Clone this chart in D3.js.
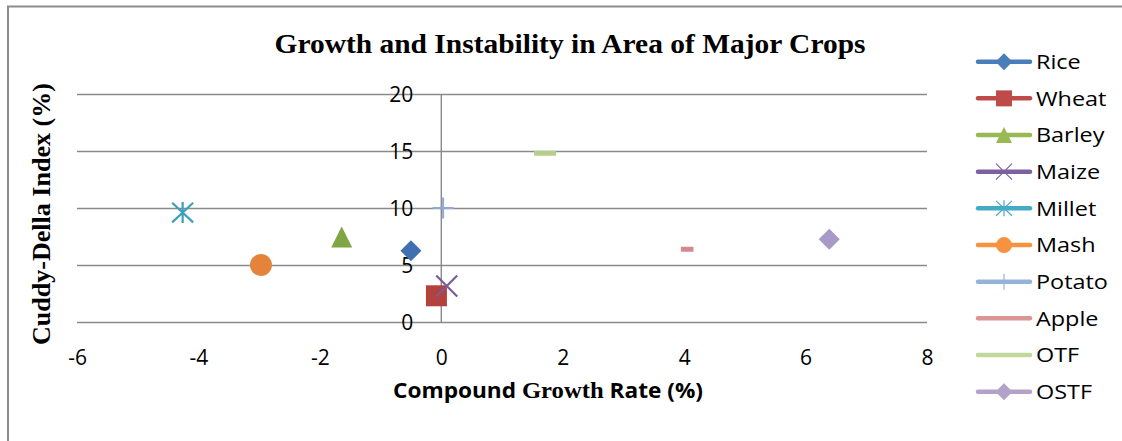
<!DOCTYPE html>
<html><head><meta charset="utf-8">
<script src="https://cdn.jsdelivr.net/npm/d3@7"></script>
<style>html,body{margin:0;padding:0;background:#fff;} svg{display:block;}</style>
</head><body>
<svg id="chart" width="1122" height="441"></svg>
<script>
// ---- data ----
const crops = ["Rice","Wheat","Barley","Maize","Millet","Mash","Potato","Apple","OTF","OSTF"];
const growthRate = [-0.50,-0.08,-1.64,0.09,-4.26,-2.97,0.03,4.05,1.71,6.39];
const instabilityIndex = [6.25,2.30,7.45,3.15,9.60,5.00,10.00,6.38,14.80,7.25];
const xTickValues = [-6,-4,-2,0,2,4,6,8];
const yTickValues = [0,5,10,15,20];
const chartTitle = "Growth and Instability in Area of Major Crops";
const xTitleParts = ["Compound ","Growth"," Rate (%)"];
const yTitle = "Cuddy-Della Index (%)";

// ---- styles ----
const style = {
  Rice:   {shape:"diamond",  line:"#4a7ebb", fill:"#3f70b0"},
  Wheat:  {shape:"square",   line:"#be4b48", fill:"#b3423e"},
  Barley: {shape:"triangle", line:"#98b954", fill:"#80a545"},
  Maize:  {shape:"x",        line:"#7d60a0", fill:"#7a5c9e"},
  Millet: {shape:"star",     line:"#46aac5", fill:"#3d9fb8"},
  Mash:   {shape:"circle",   line:"#f69240", fill:"#e4833a"},
  Potato: {shape:"plus",     line:"#95b3d7", fill:"#8eaad6"},
  Apple:  {shape:"dash",     line:"#d99694", fill:"#d48a8a"},
  OTF:    {shape:"longdash", line:"#c3d69b", fill:"#b5cf8a"},
  OSTF:   {shape:"diamond",  line:"#b3a2c7", fill:"#a899c6"}
};
const sansFont = "'Open Sans', 'DejaVu Sans', sans-serif";
const serifFont = "'Liberation Serif', 'DejaVu Serif', serif";

// custom symbol types (size = half-width)
const shapes = {
  diamond:{draw(c,r){c.moveTo(0,-r);c.lineTo(r,0);c.lineTo(0,r);c.lineTo(-r,0);c.closePath();}},
  square:{draw(c,r){c.rect(-r,-r,2*r,2*r);}},
  triangle:{draw(c,r){c.moveTo(0,-r);c.lineTo(r,r);c.lineTo(-r,r);c.closePath();}},
  circle:{draw(c,r){c.moveTo(r,0);c.arc(0,0,r,0,2*Math.PI);}},
  x:{draw(c,r){c.moveTo(-r,-r);c.lineTo(r,r);c.moveTo(-r,r);c.lineTo(r,-r);}},
  star:{draw(c,r){c.moveTo(0,-r);c.lineTo(0,r);c.moveTo(-r,-0.93*r);c.lineTo(r,0.93*r);c.moveTo(-r,0.93*r);c.lineTo(r,-0.93*r);}},
  plus:{draw(c,r){c.moveTo(-r,0);c.lineTo(r,0);c.moveTo(0,-r);c.lineTo(0,r);}},
  dash:{draw(c,r){c.rect(-r*0.6,-2.5,r*1.2,5);}},
  longdash:{draw(c,r){c.rect(-r*1.05,-2.5,r*2.1,5);}}
};
const strokeShapes = new Set(["x","star","plus"]);

const svg = d3.select("#chart");
svg.append("rect").attr("width",1122).attr("height",441).attr("fill","#fff");
// outer chart frame (top/left visible)
svg.append("path").attr("d","M8,441 L8,6.5 L1122,6.5").attr("fill","none").attr("stroke","#8c8c8c").attr("stroke-width",2);

const x = d3.scaleLinear().domain([-6,8]).range([77,927]);
const y = d3.scaleLinear().domain([0,20]).range([322,94]);

// gridlines
svg.append("g").attr("transform",`translate(${x(-6)},0)`)
  .call(d3.axisLeft(y).tickValues(yTickValues).tickSize(-(x(8)-x(-6))).tickFormat(""))
  .call(g=>g.select(".domain").remove())
  .call(g=>g.selectAll(".tick line").attr("stroke","#8a8a8a").attr("stroke-width",1.4));

// vertical axis line at x=0
svg.append("line").attr("x1",x(0)).attr("x2",x(0)).attr("y1",y(0)).attr("y2",y(20))
  .attr("stroke","#8a8a8a").attr("stroke-width",1.4);

// y tick labels
svg.append("g").attr("transform",`translate(${x(0)},0)`)
  .call(d3.axisLeft(y).tickValues(yTickValues).tickSize(0).tickPadding(28).tickFormat(d=>String(d)))
  .call(g=>g.select(".domain").remove())
  .call(g=>g.selectAll("text").attr("dy",null).attr("y",7.5)
     .attr("font-family",sansFont).attr("font-size",21).attr("fill","#000"));

// x tick labels
svg.append("g").attr("transform",`translate(0,${y(0)})`)
  .call(d3.axisBottom(x).tickValues(xTickValues).tickSize(0).tickFormat(d=>String(d)))
  .call(g=>g.select(".domain").remove())
  .call(g=>g.selectAll("text").attr("dy",null).attr("y",43)
     .attr("font-family",sansFont).attr("font-size",21).attr("fill","#000"));

// points
const pts = crops.map((c,i)=>({crop:c, gx:growthRate[i], iy:instabilityIndex[i]}));
svg.append("g").selectAll("path").data(pts).join("path")
  .attr("transform",d=>`translate(${x(d.gx)},${y(d.iy)})`)
  .attr("d",d=>d3.symbol().type(shapes[style[d.crop].shape]).size(d.crop==="Mash"?11:10.5)())
  .attr("fill",d=>strokeShapes.has(style[d.crop].shape)?"none":style[d.crop].fill)
  .attr("stroke",d=>strokeShapes.has(style[d.crop].shape)?style[d.crop].fill:"none")
  .attr("stroke-width",d=>style[d.crop].shape==="plus"?2:2.2);

// title
svg.append("text").attr("x",570).attr("y",53).attr("text-anchor","middle")
  .attr("font-family",serifFont).attr("font-weight","bold").attr("font-size",28)
  .attr("textLength",591).attr("lengthAdjust","spacingAndGlyphs").text(chartTitle);

// x-axis title (mixed fonts as in source)
const xt = svg.append("text").attr("x",548).attr("y",398).attr("text-anchor","middle")
  .attr("font-weight","bold").attr("font-size",22).attr("fill","#000");
xTitleParts.forEach((p,i)=>xt.append("tspan").attr("font-family",i===1?serifFont:sansFont)
  .attr("font-size",i===1?24:22).text(p));
xt.attr("textLength",310).attr("lengthAdjust","spacingAndGlyphs");

// y-axis title
svg.append("text").attr("transform","translate(50,214) rotate(-90)").attr("text-anchor","middle")
  .attr("font-family",serifFont).attr("font-weight","bold").attr("font-size",25)
  .attr("textLength",262).attr("lengthAdjust","spacingAndGlyphs").text(yTitle);

// legend
const legend = svg.append("g");
const legendY = d3.scalePoint().domain(crops).range([61.7,391.7]);
const li = legend.selectAll("g").data(crops).join("g")
  .attr("transform",d=>`translate(0,${legendY(d)})`);
li.append("line").attr("x1",978).attr("x2",1030).attr("y1",0).attr("y2",0)
  .attr("stroke",d=>style[d].line).attr("stroke-width",4.5).attr("stroke-linecap","round");
li.filter(d=>!["dash","longdash"].includes(style[d].shape)).append("path")
  .attr("transform","translate(1004,0)")
  .attr("d",d=>d3.symbol().type(shapes[style[d].shape]).size(style[d].shape==="diamond"?8.5:8)())
  .attr("fill",d=>strokeShapes.has(style[d].shape)?"none":style[d].line)
  .attr("stroke",d=>strokeShapes.has(style[d].shape)?style[d].line:"none")
  .attr("stroke-width",1.2);
li.append("text").attr("x",1036).attr("y",7.2)
  .attr("font-family",sansFont).attr("font-size",20).attr("fill","#000")
  .text(d=>d)
  .each(function(){ const w=this.getComputedTextLength(); d3.select(this).attr("textLength",w*1.17).attr("lengthAdjust","spacingAndGlyphs"); });
</script>
</body></html>
